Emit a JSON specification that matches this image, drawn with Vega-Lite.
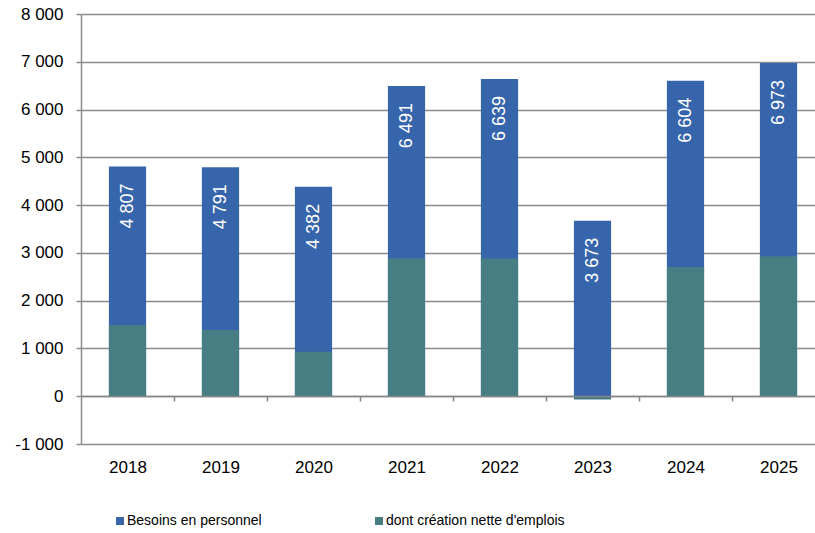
{
  "$schema": "https://vega.github.io/schema/vega-lite/v6.json",
  "width": 744,
  "height": 430,
  "autosize": {"type": "none"},
  "padding": {"left": 81, "top": 14, "right": 0, "bottom": 89},
  "background": "white",
  "config": {
    "locale": {"number": {"decimal": ",", "thousands": " ", "grouping": [3], "currency": ["", " €"], "minus": "-"}},
    "view": {"stroke": null},
    "font": "Liberation Sans"
  },
  "data": {
    "values": [
      {"year": "2018", "besoins": 4807, "creation": 1490},
      {"year": "2019", "besoins": 4791, "creation": 1385},
      {"year": "2020", "besoins": 4382, "creation": 930},
      {"year": "2021", "besoins": 6491, "creation": 2890},
      {"year": "2022", "besoins": 6639, "creation": 2880},
      {"year": "2023", "besoins": 3673, "creation": -70},
      {"year": "2024", "besoins": 6604, "creation": 2705},
      {"year": "2025", "besoins": 6973, "creation": 2930}
    ]
  },
  "encoding": {
    "x": {
      "field": "year",
      "type": "nominal",
      "sort": null,
      "scale": {"paddingInner": 0.6, "paddingOuter": 0.3},
      "axis": {
        "title": null,
        "offset": -48,
        "labelAngle": 0,
        "labelFontSize": 17,
        "labelColor": "#000000",
        "labelPadding": 58,
        "labelBaseline": "top",
        "tickBand": "center",
        "tickOffset": 46.5,
        "labelOffset": -46.5,
        "tickSize": 5,
        "tickColor": "#868686",
        "tickWidth": 1.5,
        "domainColor": "#868686",
        "domainWidth": 1.5,
        "grid": false,
        "zindex": 1
      }
    }
  },
  "layer": [
    {
      "mark": {"type": "bar"},
      "encoding": {
        "y": {
          "field": "besoins",
          "type": "quantitative",
          "scale": {"domain": [-1000, 8000], "nice": false, "zero": false},
          "axis": {
            "title": null,
            "values": [-1000, 0, 1000, 2000, 3000, 4000, 5000, 6000, 7000, 8000],
            "format": ",d",
            "labelFontSize": 17,
            "labelColor": "#000000",
            "labelPadding": 13,
            "tickSize": 5,
            "tickColor": "#8c8c8c",
            "tickWidth": 1.5,
            "domainColor": "#8c8c8c",
            "domainWidth": 1.5,
            "grid": true,
            "gridColor": "#8c8c8c",
            "gridWidth": 1.5,
            "zindex": 0
          }
        },
        "color": {
          "datum": "Besoins en personnel",
          "type": "nominal",
          "scale": {
            "domain": ["Besoins en personnel", "dont création nette d'emplois"],
            "range": ["#3665AC", "#467E84"]
          },
          "legend": {
            "title": null,
            "orient": "none",
            "legendX": 32,
            "legendY": 500,
            "direction": "horizontal",
            "symbolType": "square",
            "symbolSize": 64,
            "symbolStrokeWidth": 0,
            "labelFontSize": 14,
            "labelColor": "#000000",
            "labelOffset": 0,
            "labelLimit": 400,
            "columnPadding": 110,
            "padding": 0
          }
        }
      }
    },
    {
      "mark": {"type": "bar"},
      "encoding": {
        "y": {"field": "creation", "type": "quantitative"},
        "color": {"datum": "dont création nette d'emplois", "type": "nominal"}
      }
    },
    {
      "mark": {"type": "text", "angle": 270, "align": "right", "baseline": "middle", "dx": -17, "color": "white", "fontSize": 18},
      "encoding": {
        "y": {"field": "besoins", "type": "quantitative"},
        "text": {"field": "besoins", "type": "quantitative", "format": ",d"}
      }
    }
  ]
}
